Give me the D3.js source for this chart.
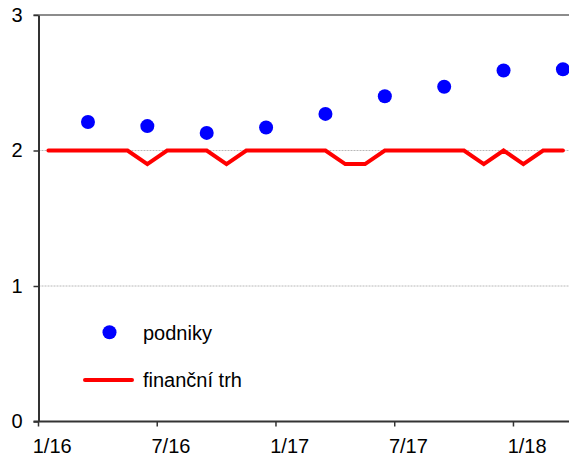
<!DOCTYPE html>
<html>
<head>
<meta charset="utf-8">
<script src="https://cdn.jsdelivr.net/npm/d3@7"></script>
<style>
  body { margin: 0; background: #fff; }
  svg text { font-family: "Liberation Sans", Arial, sans-serif; fill: #000; }
</style>
</head>
<body>
<svg id="chart" width="569" height="459"></svg>
<script>
// Data
const months = [
  "1/16", "2/16", "3/16", "4/16", "5/16", "6/16", "7/16", "8/16", "9/16", "10/16", "11/16", "12/16",
  "1/17", "2/17", "3/17", "4/17", "5/17", "6/17", "7/17", "8/17", "9/17", "10/17", "11/17", "12/17",
  "1/18", "2/18", "3/18"
];
const financniTrh = [
  2, 2, 2, 2, 2, 1.9, 2, 2, 2, 1.9, 2, 2,
  2, 2, 2, 1.9, 1.9, 2, 2, 2, 2, 2, 1.9, 2,
  1.9, 2, 2
];
// quarterly values, plotted at the last month of each quarter
const quarterMonths = ["3/16", "6/16", "9/16", "12/16", "3/17", "6/17", "9/17", "12/17", "3/18"];
const podniky = [2.21, 2.18, 2.13, 2.17, 2.27, 2.40, 2.47, 2.59, 2.60];
const tickLabels = ["1/16", "7/16", "1/17", "7/17", "1/18"];
const yTicks = [0, 1, 2, 3];

// Layout
const margin = { top: 15, left: 38.5 };
const monthWidth = 19.79;
const plotWidth = 560;
const plotHeight = 406.5;

const svg = d3.select("#chart");
const ctr = svg.append("g").attr("transform", `translate(${margin.left}, ${margin.top})`);

// Scales
const xScale = d3.scaleBand().domain(months).range([0, months.length * monthWidth]);
const yScale = d3.scaleLinear().domain([0, 3]).range([plotHeight, 0]);
const xMid = (m) => xScale(m) + xScale.bandwidth() / 2;

// Grid lines
ctr.selectAll(".grid")
  .data([1, 2])
  .join("line")
  .attr("x1", 0)
  .attr("x2", plotWidth)
  .attr("y1", (d) => yScale(d))
  .attr("y2", (d) => yScale(d))
  .attr("stroke", "#b8b8b8")
  .attr("stroke-width", 1)
  .attr("stroke-dasharray", "2,1");

// Top border
ctr.append("line")
  .attr("x1", -5).attr("x2", plotWidth)
  .attr("y1", yScale(3)).attr("y2", yScale(3))
  .attr("stroke", "#8c8c8c")
  .attr("stroke-width", 2);

// Y axis
const yAxis = d3.axisLeft(yScale).tickValues(yTicks).tickSize(5).tickSizeOuter(0).tickFormat(d3.format("d"));
const yg = ctr.append("g").call(yAxis);
yg.select(".domain").attr("stroke", "#333").attr("stroke-width", 2);
yg.selectAll(".tick line").attr("stroke", "#333").attr("stroke-width", 1.5);
yg.selectAll(".tick text")
  .attr("x", -16)
  .style("font-size", "20px")
  .style("font-family", "Liberation Sans, Arial, sans-serif")
  .attr("fill", "#000");

// X axis
ctr.append("line")
  .attr("x1", -5).attr("x2", plotWidth)
  .attr("y1", plotHeight).attr("y2", plotHeight)
  .attr("stroke", "#333")
  .attr("stroke-width", 2);

const xg = ctr.append("g").attr("transform", `translate(0, ${plotHeight})`);
xg.selectAll("line")
  .data(tickLabels)
  .join("line")
  .attr("x1", (d) => xScale(d))
  .attr("x2", (d) => xScale(d))
  .attr("y1", 0)
  .attr("y2", 5)
  .attr("stroke", "#333")
  .attr("stroke-width", 1.5);
xg.selectAll("text")
  .data(tickLabels)
  .join("text")
  .attr("x", (d) => xMid(d) + 3.8)
  .attr("y", 31)
  .attr("text-anchor", "middle")
  .style("font-size", "20px")
  .text((d) => d);

// Red line
const line = d3.line()
  .x((d, i) => xMid(months[i]))
  .y((d) => yScale(d));
ctr.append("path")
  .datum(financniTrh)
  .attr("fill", "none")
  .attr("stroke", "#ff0000")
  .attr("stroke-width", 4)
  .attr("stroke-linecap", "round")
  .attr("stroke-linejoin", "miter")
  .attr("d", line);

// Blue dots
ctr.selectAll(".dot")
  .data(podniky)
  .join("circle")
  .attr("cx", (d, i) => xMid(quarterMonths[i]))
  .attr("cy", (d) => yScale(d))
  .attr("r", 7)
  .attr("fill", "#0000ff");

// Legend
const legend = svg.append("g");
legend.append("circle")
  .attr("cx", 109.5).attr("cy", 332.3).attr("r", 7)
  .attr("fill", "#0000ff");
legend.append("text")
  .attr("x", 143).attr("y", 339.5)
  .style("font-size", "20px")
  .text("podniky");
legend.append("line")
  .attr("x1", 85).attr("x2", 132)
  .attr("y1", 380).attr("y2", 380)
  .attr("stroke", "#ff0000")
  .attr("stroke-width", 4)
  .attr("stroke-linecap", "round");
legend.append("text")
  .attr("x", 143).attr("y", 387.3)
  .style("font-size", "20px")
  .text("finanční trh");
</script>
</body>
</html>
